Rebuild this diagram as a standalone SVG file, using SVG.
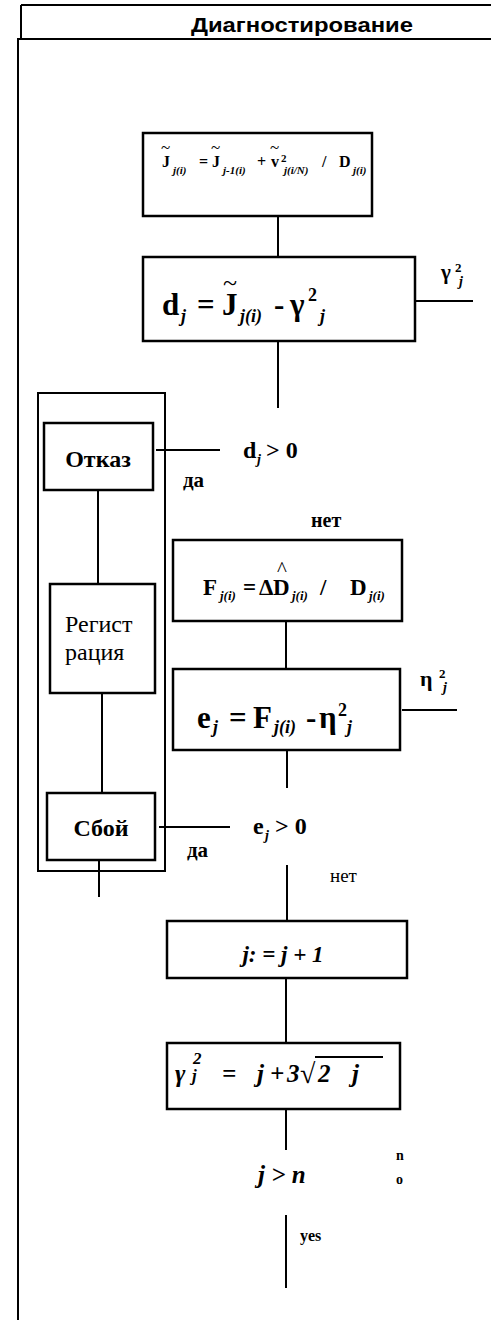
<svg xmlns="http://www.w3.org/2000/svg" width="491" height="1320" viewBox="0 0 491 1320">
<style>
.ln{stroke:#000;stroke-width:2;fill:none}
.bx{stroke:#000;stroke-width:2.5;fill:#fff}
.fr{stroke:#000;stroke-width:2;fill:none}
.t{font-family:"Liberation Serif","Times New Roman",serif;font-weight:bold;fill:#000}
.r{font-family:"Liberation Serif","Times New Roman",serif;fill:#000}
.i{font-style:italic}
.h{font-family:"Liberation Sans",Arial,sans-serif;font-weight:bold;fill:#000}
</style>
<rect width="491" height="1320" fill="#fff"/>
<g id="frame">
<line class="fr" x1="21" y1="5" x2="491" y2="5"/>
<line class="fr" x1="21" y1="5" x2="21" y2="39"/>
<line class="fr" x1="17" y1="39" x2="491" y2="39"/>
<line class="fr" x1="18" y1="39" x2="18" y2="1320"/>
<text class="h" x="191" y="32" font-size="21" textLength="222" lengthAdjust="spacingAndGlyphs">Диагностирование</text>
</g>
<g id="connectors">
<line class="ln" x1="278" y1="216" x2="278" y2="257"/>
<line class="ln" x1="416" y1="301" x2="473" y2="301"/>
<line class="ln" x1="278" y1="341" x2="278" y2="408"/>
<line class="ln" x1="156" y1="450" x2="220" y2="450"/>
<line class="ln" x1="98" y1="490" x2="98" y2="584"/>
<line class="ln" x1="102" y1="693" x2="102" y2="793"/>
<line class="ln" x1="286" y1="621" x2="286" y2="669"/>
<line class="ln" x1="402" y1="710" x2="457" y2="710"/>
<line class="ln" x1="287" y1="750" x2="287" y2="788"/>
<line class="ln" x1="159" y1="827" x2="230" y2="827"/>
<line class="ln" x1="99" y1="860" x2="99" y2="897"/>
<line class="ln" x1="287" y1="865" x2="287" y2="921"/>
<line class="ln" x1="286" y1="978" x2="286" y2="1043"/>
<line class="ln" x1="286" y1="1109" x2="286" y2="1150"/>
<line class="ln" x1="286" y1="1215" x2="286" y2="1288"/>
</g>
<g id="group-left">
<rect x="38" y="393" width="127" height="478" class="fr"/>
</g>
<g id="box-J">
<rect class="bx" x="143" y="133" width="229" height="83"/>
<text class="t" font-size="16" y="167"><tspan x="162">J</tspan><tspan x="173" dy="7" font-size="11" class="i">j(i)</tspan><tspan x="199" dy="-7">=</tspan><tspan x="212">J</tspan><tspan x="223" dy="7" font-size="11" class="i">j-1(i)</tspan><tspan x="257" dy="-7">+</tspan><tspan x="271">v</tspan><tspan x="281" dy="-5" font-size="11">2</tspan><tspan x="284" dy="12" font-size="11" class="i">j(i/N)</tspan><tspan x="322" dy="-7">/</tspan><tspan x="339">D</tspan><tspan x="353" dy="7" font-size="11" class="i">j(i)</tspan></text>
<text class="r" font-size="17" y="153"><tspan x="161">~</tspan><tspan x="211">~</tspan><tspan x="270">~</tspan></text>
</g>
<g id="box-d">
<rect class="bx" x="143" y="257" width="272" height="84"/>
<text class="t" font-size="31" y="315"><tspan x="162">d</tspan><tspan x="181" dy="7" font-size="18" class="i">j</tspan><tspan x="197" dy="-7">=</tspan><tspan x="222">J</tspan><tspan x="240" dy="7" font-size="18" class="i">j(i)</tspan><tspan x="274" dy="-7">-</tspan><tspan x="290">γ</tspan><tspan x="308" dy="-14" font-size="18">2</tspan><tspan x="320" dy="21" font-size="18" class="i">j</tspan></text>
<text class="r" font-size="26" x="223" y="291">~</text>
<text class="t" font-size="21" y="279"><tspan x="441">γ</tspan><tspan x="455" dy="-7" font-size="13">2</tspan><tspan x="459" dy="14" font-size="14" class="i">j</tspan></text>
</g>
<g id="cond-d">
<text class="t" font-size="24" y="458"><tspan x="243">d</tspan><tspan x="257" dy="6" font-size="14" class="i">j</tspan><tspan x="266" dy="-6">&gt; 0</tspan></text>
<text class="t" font-size="21" x="183" y="487">да</text>
<text class="t" font-size="20" x="311" y="527">нет</text>
</g>
<g id="box-otkaz">
<rect class="bx" x="44" y="423" width="109" height="67"/>
<text class="t" font-size="24" x="98" y="467" text-anchor="middle">Отказ</text>
</g>
<g id="box-reg">
<rect class="bx" x="50" y="584" width="105" height="109"/>
<text class="r" font-size="24" x="65" y="632">Регист</text>
<text class="r" font-size="24" x="65" y="660">рация</text>
</g>
<g id="box-F">
<rect class="bx" x="173" y="540" width="229" height="81"/>
<text class="t" font-size="23" y="595"><tspan x="203">F</tspan><tspan x="220" dy="5" font-size="13" class="i">j(i)</tspan><tspan x="243" dy="-5">=</tspan><tspan x="259">Δ</tspan><tspan x="273">D</tspan><tspan x="292" dy="5" font-size="13" class="i">j(i)</tspan><tspan x="320" dy="-5">/</tspan><tspan x="350">D</tspan><tspan x="369" dy="5" font-size="13" class="i">j(i)</tspan></text>
<text class="r" font-size="21" x="277" y="576">^</text>
</g>
<g id="box-e">
<rect class="bx" x="173" y="669" width="227" height="81"/>
<text class="t" font-size="31" y="728"><tspan x="197">e</tspan><tspan x="213" dy="5" font-size="18" class="i">j</tspan><tspan x="229" dy="-5">=</tspan><tspan x="253">F</tspan><tspan x="274" dy="5" font-size="18" class="i">j(i)</tspan><tspan x="306" dy="-5">-</tspan><tspan x="319">η</tspan><tspan x="338" dy="-12" font-size="18">2</tspan><tspan x="347" dy="17" font-size="18" class="i">j</tspan></text>
<text class="t" font-size="22" y="686"><tspan x="420">η</tspan><tspan x="439" dy="-8" font-size="13">2</tspan><tspan x="443" dy="14" font-size="14" class="i">j</tspan></text>
</g>
<g id="cond-e">
<text class="t" font-size="24" y="834"><tspan x="253">e</tspan><tspan x="265" dy="6" font-size="14" class="i">j</tspan><tspan x="275" dy="-6">&gt; 0</tspan></text>
<text class="t" font-size="21" x="187" y="857">да</text>
<text class="r" font-size="19" x="330" y="882">нет</text>
</g>
<g id="box-sboy">
<rect class="bx" x="47" y="793" width="108" height="67"/>
<text class="t" font-size="24" x="101" y="836" text-anchor="middle">Сбой</text>
</g>
<g id="box-jinc">
<rect class="bx" x="167" y="921" width="240" height="57"/>
<text class="t i" font-size="23" x="283" y="962" text-anchor="middle">j: = j + 1</text>
</g>
<g id="box-gamma">
<rect class="bx" x="167" y="1043" width="233" height="66"/>
<text class="t i" font-size="25" y="1082"><tspan x="175">γ</tspan><tspan x="193" dy="-18" font-size="17">2</tspan><tspan x="192" dy="17" font-size="17">j</tspan><tspan x="222" dy="1">=</tspan><tspan x="257">j</tspan><tspan x="270">+</tspan><tspan x="287">3</tspan><tspan x="318">2</tspan><tspan x="352">j</tspan></text>
<text class="r" font-size="28" x="300" y="1083">√</text>
<line x1="315" y1="1057" x2="383" y2="1057" stroke="#000" stroke-width="1.8"/>
</g>
<g id="cond-n">
<text class="t i" font-size="25" x="258" y="1183">j &gt; n</text>
<text class="t" font-size="14" x="396" y="1160">n</text>
<text class="t" font-size="14" x="396" y="1184">o</text>
<text class="t" font-size="16" x="300" y="1241">yes</text>
</g>
</svg>
